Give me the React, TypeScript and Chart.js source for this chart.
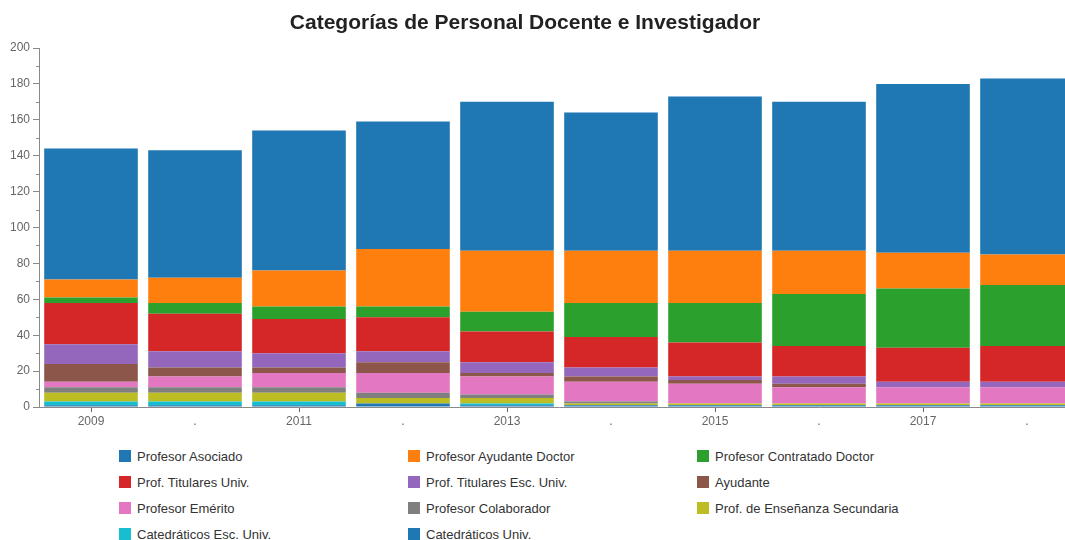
import React, { useEffect, useRef } from 'react';
import { Chart, registerables } from 'chart.js';

Chart.register(...registerables);

const titleText = 'Categorías de Personal Docente e Investigador';
const years = ['2009', '2010', '2011', '2012', '2013', '2014', '2015', '2016', '2017', '2018'];

// Legend order (top of stack first)
const seriesNames = [
  'Profesor Asociado',
  'Profesor Ayudante Doctor',
  'Profesor Contratado Doctor',
  'Prof. Titulares Univ.',
  'Prof. Titulares Esc. Univ.',
  'Ayudante',
  'Profesor Emérito',
  'Profesor Colaborador',
  'Prof. de Enseñanza Secundaria',
  'Catedráticos Esc. Univ.',
  'Catedráticos Univ.',
];
const seriesColors = [
  '#1f77b4', '#ff7f0e', '#2ca02c', '#d62728', '#9467bd', '#8c564b',
  '#e377c2', '#7f7f7f', '#bcbd22', '#17becf', '#1f77b4',
];

const profesorAsociado = [73, 71, 78, 71, 83, 77, 86, 83, 94, 98];
const profesorAyudanteDoctor = [10, 14, 20, 32, 34, 29, 29, 24, 20, 17];
const profesorContratadoDoctor = [3, 6, 7, 6, 11, 19, 22, 29, 33, 34];
const profTitularesUniv = [23, 21, 19, 19, 17, 17, 19, 17, 19, 20];
const profTitularesEscUniv = [11, 9, 8, 6, 6, 5, 2, 4, 3, 3];
const ayudante = [10, 5, 3, 6, 2, 3, 2, 2, 0, 0];
const profesorEmerito = [3, 6, 8, 11, 10, 11, 11, 9, 9, 9];
const profesorColaborador = [3, 3, 3, 3, 2, 1, 0, 0, 0, 0];
const profEnsenanzaSecundaria = [5, 5, 5, 3, 3, 1, 1, 1, 1, 1];
const catedraticosEscUniv = [2, 2, 2, 0, 1, 0, 0, 0, 0, 0];
const catedraticosUniv = [1, 1, 1, 2, 1, 1, 1, 1, 1, 1];

const seriesValues = [
  profesorAsociado,
  profesorAyudanteDoctor,
  profesorContratadoDoctor,
  profTitularesUniv,
  profTitularesEscUniv,
  ayudante,
  profesorEmerito,
  profesorColaborador,
  profEnsenanzaSecundaria,
  catedraticosEscUniv,
  catedraticosUniv,
];

const FONT = "'Liberation Sans', Arial, sans-serif";
const AXIS_COLOR = '#8a8a8a';

const minorTicks = {
  id: 'minorTicks',
  afterDraw(chart: any) {
    const y = chart.scales.y;
    const ctx = chart.ctx;
    ctx.save();
    ctx.strokeStyle = AXIS_COLOR;
    ctx.lineWidth = 1;
    for (let v = 10; v < 200; v += 20) {
      const py = Math.round(y.getPixelForValue(v)) + 0.5;
      ctx.beginPath();
      ctx.moveTo(y.right - 3, py);
      ctx.lineTo(y.right, py);
      ctx.stroke();
    }
    ctx.restore();
  },
};

export default function App() {
  const ref = useRef<HTMLCanvasElement | null>(null);

  useEffect(() => {
    if (!ref.current) return;
    const datasets = seriesNames
      .map((name, i) => ({
        label: name,
        data: seriesValues[i],
        backgroundColor: seriesColors[i],
        borderWidth: 0,
        categoryPercentage: 0.9,
        barPercentage: 1.0,
      }))
      .reverse();
    const chart = new Chart(ref.current, {
      type: 'bar',
      data: { labels: years, datasets },
      plugins: [minorTicks],
      options: {
        responsive: false,
        animation: false,
        layout: { padding: { top: 48, right: 0, bottom: 0, left: 0 } },
        plugins: {
          legend: { display: false },
          title: { display: false },
          tooltip: { enabled: false },
        },
        scales: {
          x: {
            stacked: true,
            offset: true,
            grid: {
              display: true,
              offset: false,
              drawOnChartArea: false,
              drawTicks: true,
              tickLength: 5,
              tickColor: (c: any) => (c.index % 2 === 0 ? '#666' : 'rgba(0,0,0,0)'),
            },
            border: { display: true, color: AXIS_COLOR },
            ticks: {
              autoSkip: false,
              maxRotation: 0,
              padding: 2,
              color: '#666',
              font: { family: FONT, size: 12 },
              callback: (_v: any, i: number) => (i % 2 === 0 ? years[i] : '.'),
            },
            afterFit: (s: any) => { s.height = 33; },
          },
          y: {
            stacked: true,
            min: 0,
            max: 200,
            grid: {
              display: true,
              drawOnChartArea: false,
              drawTicks: true,
              tickLength: 6,
              tickColor: (c: any) => (c.tick && c.tick.value % 20 === 0 ? AXIS_COLOR : 'rgba(0,0,0,0)'),
            },
            border: { display: true, color: AXIS_COLOR },
            ticks: {
              stepSize: 10,
              autoSkip: false,
              padding: 3,
              color: '#666',
              font: { family: FONT, size: 12 },
              callback: (v: any) => (Number(v) % 20 === 0 ? String(v) : ''),
            },
            afterFit: (s: any) => { s.width = 39; },
          },
        },
      },
    });
    return () => chart.destroy();
  }, []);

  const cols = [119, 408, 697];

  return (
    <div
      style={{
        position: 'absolute',
        left: 0,
        top: 0,
        width: 1065,
        height: 540,
        overflow: 'hidden',
        background: '#fff',
        fontFamily: FONT,
      }}
    >
      <canvas
        ref={ref}
        width={1079}
        height={440}
        style={{ position: 'absolute', left: 0, top: 0, width: 1079, height: 440 }}
      />
      <div
        style={{
          position: 'absolute',
          left: 0,
          top: 10,
          width: 1050,
          textAlign: 'center',
          fontWeight: 'bold',
          fontSize: 21,
          lineHeight: '24px',
          color: '#222',
        }}
      >
        {titleText}
      </div>
      {seriesNames.map((name, i) => {
        const col = i % 3;
        const row = Math.floor(i / 3);
        return (
          <div
            key={name}
            style={{
              position: 'absolute',
              left: cols[col],
              top: 449 + row * 26,
              height: 14,
              display: 'flex',
              alignItems: 'center',
              fontSize: 13,
              color: '#333',
              whiteSpace: 'nowrap',
            }}
          >
            <span
              style={{
                display: 'inline-block',
                width: 12,
                height: 12,
                background: seriesColors[i],
                marginRight: 6,
              }}
            />
            <span>{name}</span>
          </div>
        );
      })}
    </div>
  );
}
